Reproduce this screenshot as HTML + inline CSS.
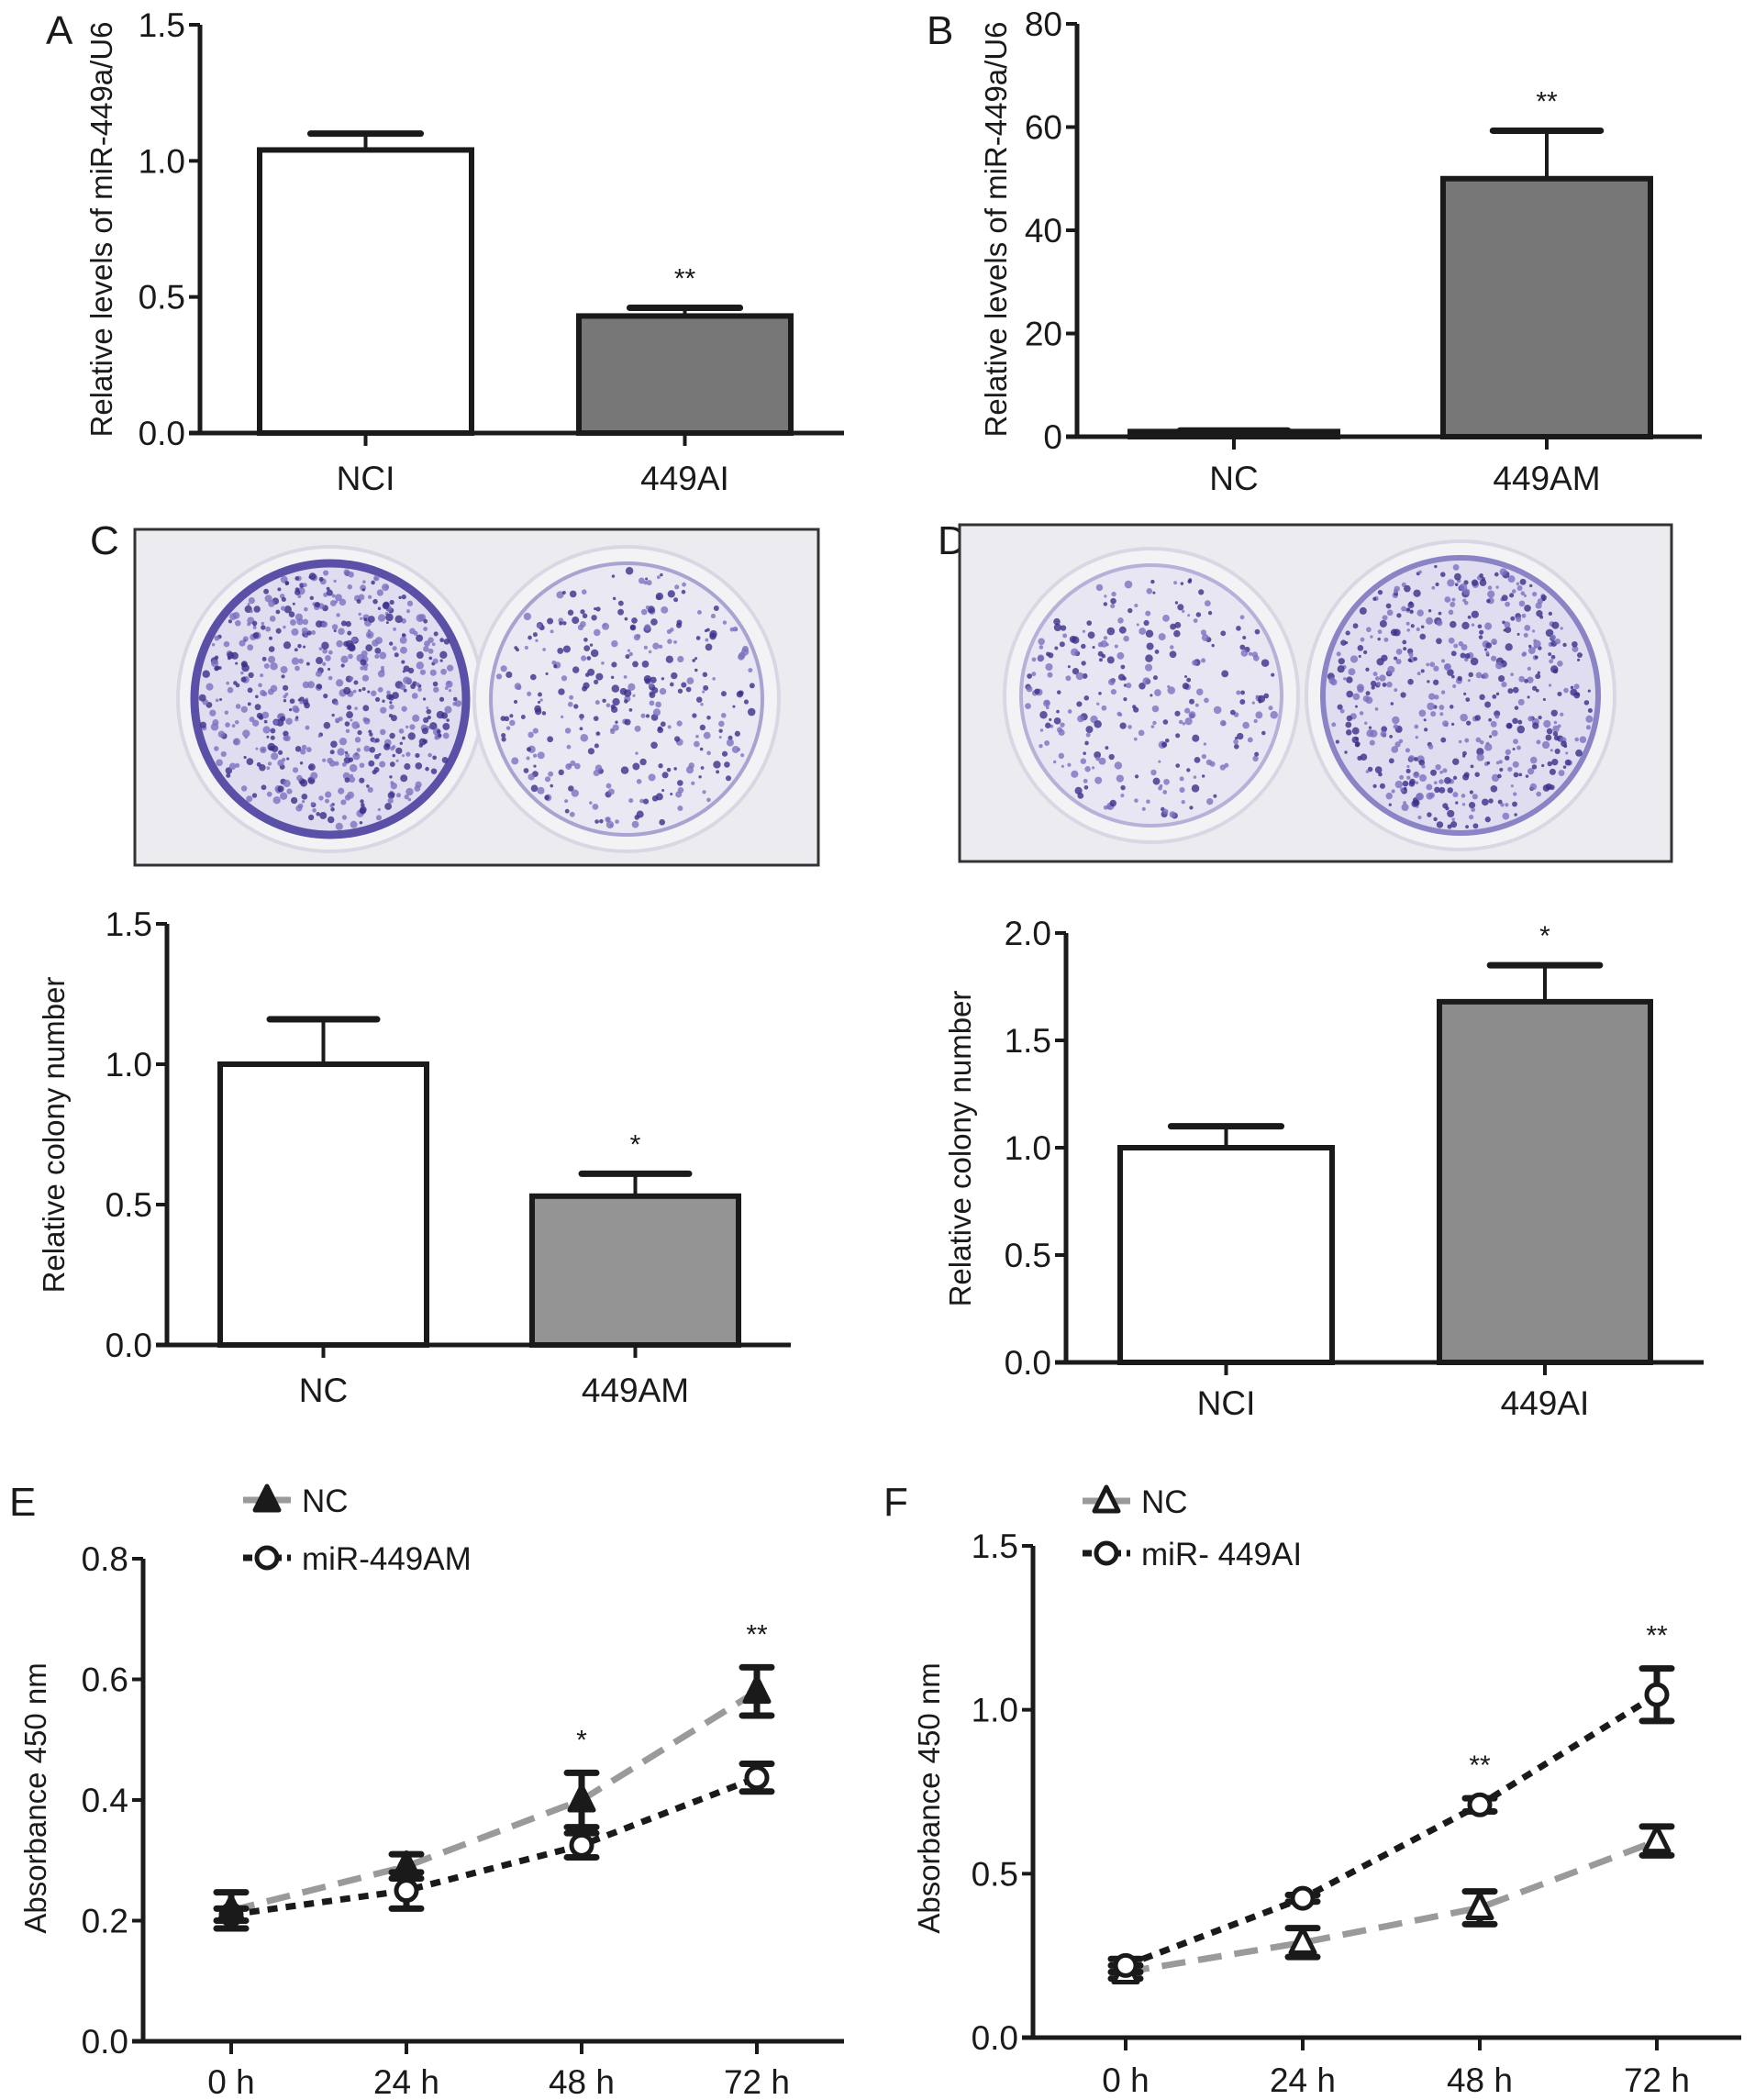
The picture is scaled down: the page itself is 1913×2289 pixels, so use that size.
<!DOCTYPE html>
<html><head><meta charset="utf-8">
<style>
html,body{margin:0;padding:0;background:#fff;}
svg{display:block;}
text{font-family:"Liberation Sans Narrow","Liberation Sans",sans-serif;fill:#1a1a1a;}
.lt{font-family:"Liberation Sans",sans-serif;}
</style></head>
<body>
<svg id="fig" width="1913" height="2289" viewBox="0 0 1913 2289" xmlns="http://www.w3.org/2000/svg">
<g>
<text class="lt" x="50" y="48" font-size="44">A</text>
<text class="lt" x="1010" y="48" font-size="44">B</text>
<text class="lt" x="98" y="604" font-size="44">C</text>
<text class="lt" x="1022" y="604" font-size="44">D</text>
<text class="lt" x="10" y="1652" font-size="44">E</text>
<text class="lt" x="963" y="1652" font-size="44">F</text>
</g>
<g id="photos"></g>
<g id="charts"></g>
</svg>
<script>
// ---- Bar chart data ----
const catsA = ["NCI", "449AI"];
const valsA = [1.04, 0.43];
const errA = [0.06, 0.03];
const ticksA = [0, 0.5, 1.0, 1.5];
const tickLabelsA = ["0.0", "0.5", "1.0", "1.5"];
const starsA = ["", "**"];

const catsB = ["NC", "449AM"];
const valsB = [1.0, 50];
const errB = [0.2, 9.3];
const ticksB = [0, 20, 40, 60, 80];
const tickLabelsB = ["0", "20", "40", "60", "80"];
const starsB = ["", "**"];

const catsC = ["NC", "449AM"];
const valsC = [1.0, 0.53];
const errC = [0.16, 0.08];
const ticksC = [0, 0.5, 1.0, 1.5];
const tickLabelsC = ["0.0", "0.5", "1.0", "1.5"];
const starsC = ["", "*"];

const catsD = ["NCI", "449AI"];
const valsD = [1.0, 1.68];
const errD = [0.1, 0.17];
const ticksD = [0, 0.5, 1.0, 1.5, 2.0];
const tickLabelsD = ["0.0", "0.5", "1.0", "1.5", "2.0"];
const starsD = ["", "*"];

// ---- Line chart data ----
const timesE = ["0 h", "24 h", "48 h", "72 h"];
const ncE = [0.217, 0.29, 0.40, 0.58];
const ncErrE = [0.03, 0.02, 0.045, 0.04];
const amE = [0.21, 0.25, 0.325, 0.437];
const amErrE = [0.01, 0.03, 0.02, 0.023];
const ticksE = [0, 0.2, 0.4, 0.6, 0.8];
const tickLabelsE = ["0.0", "0.2", "0.4", "0.6", "0.8"];
const starsE = ["", "", "*", "**"];

const timesF = ["0 h", "24 h", "48 h", "72 h"];
const ncF = [0.2, 0.29, 0.396, 0.6];
const ncErrF = [0.02, 0.044, 0.05, 0.044];
const aiF = [0.22, 0.425, 0.71, 1.046];
const aiErrF = [0.02, 0.01, 0.02, 0.08];
const ticksF = [0, 0.5, 1.0, 1.5];
const tickLabelsF = ["0.0", "0.5", "1.0", "1.5"];
const starsF = ["", "", "**", "**"];

const NS = "http://www.w3.org/2000/svg";
const TICK_FS = 37, XLAB_FS = 37, TITLE_FS = 33;
function mk(parent, tag, attrs, txt){
  const e = document.createElementNS(NS, tag);
  for (const k in attrs) e.setAttribute(k, attrs[k]);
  if (txt !== undefined) e.textContent = txt;
  parent.appendChild(e);
  return e;
}
const charts = document.getElementById('charts');

function barChart(cfg, cats, vals, errs, ticks, tlabels, stars){
  const g = mk(charts, 'g', {});
  
  
  const y = v => cfg.y0 + (v - cfg.min) / (cfg.max - cfg.min) * (cfg.y1 - cfg.y0);
  cats.forEach((c, i) => {
    const L = cfg.barL[i], R = cfg.barR[i], cx = (L + R) / 2;
    const top = y(vals[i]);
    const b = mk(g, 'rect', {x: L, y: top, width: R - L, height: cfg.y0 - top, fill: cfg.fills[i], stroke: '#1a1a1a', 'stroke-width': 6});
    
    
    const ey = y(vals[i] + errs[i]);
    const cw = (R - L) * 0.26;
    const e1 = mk(g, 'line', {x1: cx, x2: cx, y1: top, y2: ey, stroke: '#1a1a1a', 'stroke-width': 4});
    
    
    const e2 = mk(g, 'line', {x1: cx - cw, x2: cx + cw, y1: ey, y2: ey, stroke: '#1a1a1a', 'stroke-width': 7, 'stroke-linecap': 'round'});
    
    
    if (stars[i]) {
      const s = mk(g, 'text', {x: cx, y: ey - 22, 'font-size': 30, 'text-anchor': 'middle'}, stars[i]);
      
      
    }
    const tk = mk(g, 'line', {x1: cx, x2: cx, y1: cfg.y0, y2: cfg.y0 + 14, stroke: '#1a1a1a', 'stroke-width': 4});
    
    
    const lb = mk(g, 'text', {x: cx, y: cfg.labelY, 'font-size': XLAB_FS, 'text-anchor': 'middle'}, c);
    
    
  });
  const ya = mk(g, 'line', {x1: cfg.ax, x2: cfg.ax, y1: y(cfg.max), y2: cfg.y0 + 2, stroke: '#1a1a1a', 'stroke-width': 5});
  
  
  const xa = mk(g, 'line', {x1: cfg.ax - 12, x2: cfg.xEnd, y1: cfg.y0, y2: cfg.y0, stroke: '#1a1a1a', 'stroke-width': 5});
  
  
  ticks.forEach((t, i) => {
    const ty = y(t);
    const tl = mk(g, 'line', {x1: cfg.ax - 12, x2: cfg.ax, y1: ty, y2: ty, stroke: '#1a1a1a', 'stroke-width': 4});
    
    
    const tt = mk(g, 'text', {x: cfg.ax - 16, y: ty + 13, 'font-size': TICK_FS, 'text-anchor': 'end'}, tlabels[i]);
    
    
  });
  const yt = mk(g, 'text', {x: 0, y: 0, 'font-size': TITLE_FS, 'text-anchor': 'middle', class: 'lt', transform: 'translate(' + cfg.titleX + ',' + cfg.titleY + ') rotate(-90)'}, cfg.title);
  
  
}

barChart({name: 'chart-a', min: 0, max: 1.5, y0: 472, y1: 27, ax: 218, xEnd: 920, barL: [283, 631], barR: [514, 862], fills: ['#fff', '#777'], labelY: 534, title: 'Relative levels of miR-449a/U6', titleX: 122, titleY: 250}, catsA, valsA, errA, ticksA, tickLabelsA, starsA);
barChart({name: 'chart-b', min: 0, max: 80, y0: 476, y1: 26, ax: 1174, xEnd: 1855, barL: [1232, 1573], barR: [1458, 1799], fills: ['#222', '#777'], labelY: 534, title: 'Relative levels of miR-449a/U6', titleX: 1097, titleY: 250}, catsB, valsB, errB, ticksB, tickLabelsB, starsB);
barChart({name: 'chart-c', min: 0, max: 1.5, y0: 1466, y1: 1007, ax: 182, xEnd: 862, barL: [240, 580], barR: [465, 805], fills: ['#fff', '#949494'], labelY: 1528, title: 'Relative colony number', titleX: 70, titleY: 1237}, catsC, valsC, errC, ticksC, tickLabelsC, starsC);
barChart({name: 'chart-d', min: 0, max: 2.0, y0: 1485, y1: 1017, ax: 1162, xEnd: 1857, barL: [1221, 1569], barR: [1452, 1799], fills: ['#fff', '#8c8c8c'], labelY: 1542, title: 'Relative colony number', titleX: 1058, titleY: 1252}, catsD, valsD, errD, ticksD, tickLabelsD, starsD);

function marker(g, type, cx, cy, filled, name){
  let m;
  if (type === 'tri') {
    m = mk(g, 'polygon', {points: (cx) + ',' + (cy - 15) + ' ' + (cx - 13) + ',' + (cy + 11) + ' ' + (cx + 13) + ',' + (cy + 11), fill: filled ? '#1a1a1a' : '#fff', stroke: '#1a1a1a', 'stroke-width': 5, 'stroke-linejoin': 'round'});
  } else {
    m = mk(g, 'circle', {cx: cx, cy: cy, r: 11, fill: '#fff', stroke: '#1a1a1a', 'stroke-width': 5});
  }
  
  
}

function lineChart(cfg, cats, s1, e1, s2, e2, ticks, tlabels, stars){
  const g = mk(charts, 'g', {});
  
  
  const y = v => cfg.y0 + (v - cfg.min) / (cfg.max - cfg.min) * (cfg.y1 - cfg.y0);
  const x = i => cfg.xs0 + i * (cfg.xs1 - cfg.xs0) / (cats.length - 1);
  const ya = mk(g, 'line', {x1: cfg.ax, x2: cfg.ax, y1: y(cfg.max), y2: cfg.y0 + 2, stroke: '#1a1a1a', 'stroke-width': 5});
  
  
  const xa = mk(g, 'line', {x1: cfg.ax - 12, x2: cfg.xEnd, y1: cfg.y0, y2: cfg.y0, stroke: '#1a1a1a', 'stroke-width': 5});
  
  
  ticks.forEach((t, i) => {
    const ty = y(t);
    const tl = mk(g, 'line', {x1: cfg.ax - 12, x2: cfg.ax, y1: ty, y2: ty, stroke: '#1a1a1a', 'stroke-width': 4});
    
    
    const tt = mk(g, 'text', {x: cfg.ax - 16, y: ty + 13, 'font-size': TICK_FS, 'text-anchor': 'end'}, tlabels[i]);
    
    
  });
  cats.forEach((c, i) => {
    const tk = mk(g, 'line', {x1: x(i), x2: x(i), y1: cfg.y0, y2: cfg.y0 + 14, stroke: '#1a1a1a', 'stroke-width': 4});
    
    
    const lb = mk(g, 'text', {x: x(i), y: cfg.labelY, 'font-size': XLAB_FS, 'text-anchor': 'middle'}, c);
    
    
  });
  const yt = mk(g, 'text', {x: 0, y: 0, 'font-size': TITLE_FS, 'text-anchor': 'middle', class: 'lt', transform: 'translate(' + cfg.titleX + ',' + cfg.titleY + ') rotate(-90)'}, 'Absorbance 450 nm');
  
  
  const p1 = s1.map((v, i) => x(i) + ',' + y(v)).join(' ');
  const p2 = s2.map((v, i) => x(i) + ',' + y(v)).join(' ');
  const l1 = mk(g, 'polyline', {points: p1, fill: 'none', stroke: '#9a9a9a', 'stroke-width': 7, 'stroke-dasharray': '26 14'});
  
  
  const l2 = mk(g, 'polyline', {points: p2, fill: 'none', stroke: '#1a1a1a', 'stroke-width': 7, 'stroke-dasharray': '11 9'});
  
  
  function errs(s, e, nm){
    s.forEach((v, i) => {
      const hi = y(v + e[i]), lo = y(v - e[i]);
      const el = mk(g, 'path', {d: 'M' + x(i) + ',' + hi + 'V' + lo + 'M' + (x(i) - 16) + ',' + hi + 'H' + (x(i) + 16) + 'M' + (x(i) - 16) + ',' + lo + 'H' + (x(i) + 16), stroke: '#1a1a1a', 'stroke-width': 7, 'stroke-linecap': 'round', fill: 'none'});
      
      
    });
  }
  errs(s1, e1, 'nc');
  errs(s2, e2, cfg.s2name);
  if (cfg.triOnTop) {
    s2.forEach((v, i) => marker(g, 'circ', x(i), y(v), false, cfg.s2name + '-point'));
    s1.forEach((v, i) => marker(g, 'tri', x(i), y(v), cfg.triFilled, 'nc-point'));
  } else {
    s1.forEach((v, i) => marker(g, 'tri', x(i), y(v), cfg.triFilled, 'nc-point'));
    s2.forEach((v, i) => marker(g, 'circ', x(i), y(v), false, cfg.s2name + '-point'));
  }
  stars.forEach((s, i) => {
    if (!s) return;
    const top = Math.max(s1[i] + e1[i], s2[i] + e2[i]);
    const st = mk(g, 'text', {x: x(i), y: y(top) - 26, 'font-size': 30, 'text-anchor': 'middle'}, s);
    
    
  });
  const lg = mk(g, 'g', {});
  
  
  const la = mk(lg, 'line', {x1: cfg.legX, x2: cfg.legX + 52, y1: cfg.legY1, y2: cfg.legY1, stroke: '#9a9a9a', 'stroke-width': 7});
  
  
  marker(lg, 'tri', cfg.legX + 26, cfg.legY1, cfg.triFilled, 'legend-nc-marker');
  const ta = mk(lg, 'text', {x: cfg.legX + 64, y: cfg.legY1 + 13, 'font-size': 35, class: 'lt'}, 'NC');
  
  
  const lb2 = mk(lg, 'line', {x1: cfg.legX, x2: cfg.legX + 52, y1: cfg.legY2, y2: cfg.legY2, stroke: '#1a1a1a', 'stroke-width': 7, 'stroke-dasharray': '10 6'});
  
  
  marker(lg, 'circ', cfg.legX + 26, cfg.legY2, false, 'legend-' + cfg.s2name + '-marker');
  const tb = mk(lg, 'text', {x: cfg.legX + 64, y: cfg.legY2 + 13, 'font-size': 35, class: 'lt'}, cfg.s2label);
  
  
}

lineChart({name: 'chart-e', min: 0, max: 0.8, y0: 2225, y1: 1699, ax: 156, xEnd: 920, xs0: 252, xs1: 825, labelY: 2282, titleX: 50, titleY: 1960, triFilled: true, triOnTop: true, s2name: 'mir-449am', s2label: 'miR-449AM', legX: 265, legY1: 1635, legY2: 1698}, timesE, ncE, ncErrE, amE, amErrE, ticksE, tickLabelsE, starsE);
lineChart({name: 'chart-f', min: 0, max: 1.5, y0: 2221, y1: 1685, ax: 1126, xEnd: 1898, xs0: 1227, xs1: 1806, labelY: 2280, titleX: 1024, titleY: 1960, triFilled: false, triOnTop: false, s2name: 'mir-449ai', s2label: 'miR- 449AI', legX: 1180, legY1: 1636, legY2: 1693}, timesF, ncF, ncErrF, aiF, aiErrF, ticksF, tickLabelsF, starsF);

// ---- colony photos (decorative) ----
const photos = document.getElementById('photos');
let seed = 7;
function rnd(){ seed = (seed * 16807) % 2147483647; return seed / 2147483647; }
function photo(name, x, y, w, h, wells){
  const g = mk(photos, 'g', {});
  
  
  mk(g, 'rect', {x: x, y: y, width: w, height: h, fill: '#ececf0', stroke: '#333', 'stroke-width': 3});
  wells.forEach(wl => {
    mk(g, 'circle', {cx: wl.cx, cy: wl.cy, r: wl.r + 18, fill: '#f3f3f6', stroke: '#d8d8e4', 'stroke-width': 4});
    mk(g, 'circle', {cx: wl.cx, cy: wl.cy, r: wl.r, fill: wl.bg, stroke: wl.rim, 'stroke-width': wl.rimW});
    for (let k = 0; k < wl.n; k++) {
      const a = rnd() * Math.PI * 2, rr = Math.sqrt(rnd()) * (wl.r - 6);
      mk(g, 'circle', {cx: wl.cx + Math.cos(a) * rr, cy: wl.cy + Math.sin(a) * rr, r: 1.5 + rnd() * 2.8, fill: rnd() < 0.5 ? '#3a2f8a' : '#7a72c0', opacity: 0.8});
    }
  });
}
photo('colony-photo-c', 147, 577, 745, 366, [
  {cx: 360, cy: 762, r: 148, bg: '#e0ddf0', rim: '#5a50a8', rimW: 9, n: 600},
  {cx: 683, cy: 762, r: 148, bg: '#e9e8f3', rim: '#a8a4d2', rimW: 4, n: 330}
]);
photo('colony-photo-d', 1046, 572, 776, 367, [
  {cx: 1255, cy: 758, r: 142, bg: '#e8e6f3', rim: '#b5b1d8', rimW: 4, n: 280},
  {cx: 1592, cy: 758, r: 150, bg: '#e0ddf0', rim: '#8a83c6', rimW: 6, n: 520}
]);
</script>
</body></html>
